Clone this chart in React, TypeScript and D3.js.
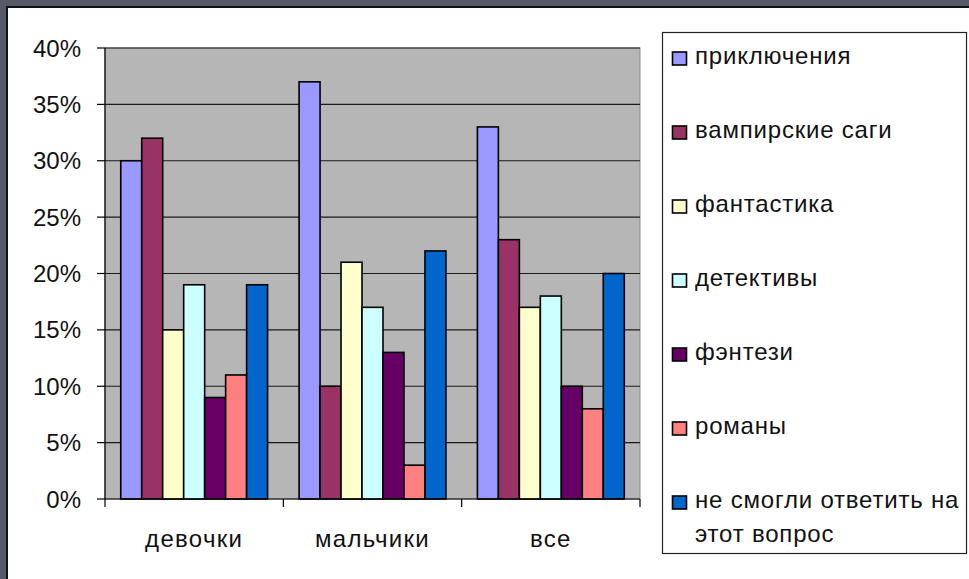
import { useEffect, useRef } from "react";
import * as d3 from "d3";

const categories = ["девочки", "мальчики", "все"];
const seriesNames = [
  "приключения",
  "вампирские саги",
  "фантастика",
  "детективы",
  "фэнтези",
  "романы",
  "не смогли ответить на этот вопрос",
];
const seriesColors = ["#9999ff", "#993366", "#ffffcc", "#ccffff", "#660066", "#ff8080", "#0066cc"];
// percent values per series, in category order
const adventure = [30, 37, 33];
const vampire = [32, 10, 23];
const fantasy = [15, 21, 17];
const detective = [19, 17, 18];
const fantasyFiction = [9, 13, 10];
const romance = [11, 3, 8];
const noAnswer = [19, 22, 20];
const seriesValues = [adventure, vampire, fantasy, detective, fantasyFiction, romance, noAnswer];
const yTicks = [0, 5, 10, 15, 20, 25, 30, 35, 40];

const W = 969;
const H = 579;
const FONT = "'Liberation Sans', Arial, sans-serif";

const App = () => {
  const ref = useRef<SVGSVGElement | null>(null);

  useEffect(() => {
    const svg = d3.select(ref.current);
    svg.selectAll("*").remove();

    // background + frame on top/left
    svg.append("rect").attr("width", W).attr("height", H).attr("fill", "#ffffff");
    svg.append("rect").attr("x", 0).attr("y", 0).attr("width", W).attr("height", 7).attr("fill", "#575969");
    svg.append("rect").attr("x", 0).attr("y", 0).attr("width", 7).attr("height", H).attr("fill", "#575969");
    svg.append("line").attr("x1", 6).attr("x2", W).attr("y1", 7).attr("y2", 7).attr("stroke", "#111").attr("stroke-width", 2);
    svg.append("line").attr("x1", 7).attr("x2", 7).attr("y1", 6).attr("y2", H).attr("stroke", "#111").attr("stroke-width", 2);

    const left = 105, right = 640, top = 48, bottom = 499;

    const y = d3.scaleLinear().domain([0, 40]).range([bottom, top]);
    const x0 = d3.scaleBand<string>().domain(categories).range([left, right]).padding(0);
    const x1 = d3
      .scaleBand<string>()
      .domain(seriesNames)
      .range([0, x0.bandwidth()])
      .paddingInner(0)
      .paddingOuter(0.75);

    // plot area
    svg
      .append("rect")
      .attr("x", left)
      .attr("y", top)
      .attr("width", right - left)
      .attr("height", bottom - top)
      .attr("fill", "#b6b6b6")
      .attr("stroke", "#8a8a8a")
      .attr("stroke-width", 1);

    // gridlines
    svg
      .append("g")
      .selectAll("line")
      .data(yTicks.filter((t) => t > 0))
      .enter()
      .append("line")
      .attr("x1", left)
      .attr("x2", right)
      .attr("y1", (d) => y(d))
      .attr("y2", (d) => y(d))
      .attr("stroke", "#1a1a1a")
      .attr("stroke-width", 1.2);

    // bars
    const groups = svg
      .append("g")
      .selectAll("g")
      .data(categories)
      .enter()
      .append("g")
      .attr("transform", (d) => `translate(${x0(d)},0)`);

    groups
      .selectAll("rect")
      .data((_, ci) => seriesNames.map((s, si) => ({ s, si, v: seriesValues[si][ci] })))
      .enter()
      .append("rect")
      .attr("x", (d) => x1(d.s) as number)
      .attr("y", (d) => y(d.v))
      .attr("width", x1.bandwidth())
      .attr("height", (d) => y(0) - y(d.v))
      .attr("fill", (d) => seriesColors[d.si])
      .attr("stroke", "#000")
      .attr("stroke-width", 1.6);

    // y axis
    svg.append("line").attr("x1", left).attr("x2", left).attr("y1", top).attr("y2", bottom).attr("stroke", "#000").attr("stroke-width", 1.2);
    const yAx = svg.append("g");
    yAx
      .selectAll("line")
      .data(yTicks)
      .enter()
      .append("line")
      .attr("x1", left - 8)
      .attr("x2", left)
      .attr("y1", (d) => y(d))
      .attr("y2", (d) => y(d))
      .attr("stroke", "#000")
      .attr("stroke-width", 1.2);
    yAx
      .selectAll("text")
      .data(yTicks)
      .enter()
      .append("text")
      .attr("x", 81)
      .attr("y", (d) => y(d) + 8.5)
      .attr("text-anchor", "end")
      .attr("font-family", FONT)
      .attr("font-size", 24)
      .attr("fill", "#111")
      .text((d) => `${d}%`);

    // x axis
    svg.append("line").attr("x1", left).attr("x2", right).attr("y1", bottom).attr("y2", bottom).attr("stroke", "#000").attr("stroke-width", 1.2);
    const tickXs = [...categories.map((c) => x0(c) as number), right];
    svg
      .append("g")
      .selectAll("line")
      .data(tickXs)
      .enter()
      .append("line")
      .attr("x1", (d) => d)
      .attr("x2", (d) => d)
      .attr("y1", bottom)
      .attr("y2", bottom + 8)
      .attr("stroke", "#000")
      .attr("stroke-width", 1.2);
    svg
      .append("g")
      .selectAll("text")
      .data(categories)
      .enter()
      .append("text")
      .attr("x", (d) => (x0(d) as number) + x0.bandwidth() / 2)
      .attr("y", 547)
      .attr("text-anchor", "middle")
      .attr("font-family", FONT)
      .attr("font-size", 24)
      .attr("letter-spacing", 1.3)
      .attr("fill", "#111")
      .text((d) => d);

    // legend
    const lg = svg.append("g");
    lg.append("rect")
      .attr("x", 662.5)
      .attr("y", 32.5)
      .attr("width", 304)
      .attr("height", 521)
      .attr("fill", "#fff")
      .attr("stroke", "#222")
      .attr("stroke-width", 1.2);

    const spacing = 74;
    const items = lg
      .selectAll("g")
      .data(seriesNames)
      .enter()
      .append("g")
      .attr("transform", (_, i) => `translate(0,${64 + i * spacing})`);
    items
      .append("rect")
      .attr("x", 672.5)
      .attr("y", -12)
      .attr("width", 14)
      .attr("height", 13)
      .attr("fill", (_, i) => seriesColors[i])
      .attr("stroke", "#000")
      .attr("stroke-width", 1.6);
    items.each(function (d) {
      const t = d3
        .select(this)
        .append("text")
        .attr("x", 695)
        .attr("y", 0)
        .attr("font-family", FONT)
        .attr("font-size", 24)
        .attr("letter-spacing", 0.8)
        .attr("fill", "#111");
      const lines = d === "не смогли ответить на этот вопрос" ? ["не смогли ответить на", "этот вопрос"] : [d];
      lines.forEach((ln, li) => {
        t.append("tspan").attr("x", 695).attr("dy", li === 0 ? 0 : 34).text(ln);
      });
    });
  }, []);

  return (
    <svg
      ref={ref}
      width={W}
      height={H}
      style={{ position: "absolute", left: 0, top: 0, display: "block" }}
    />
  );
};

export default App;
